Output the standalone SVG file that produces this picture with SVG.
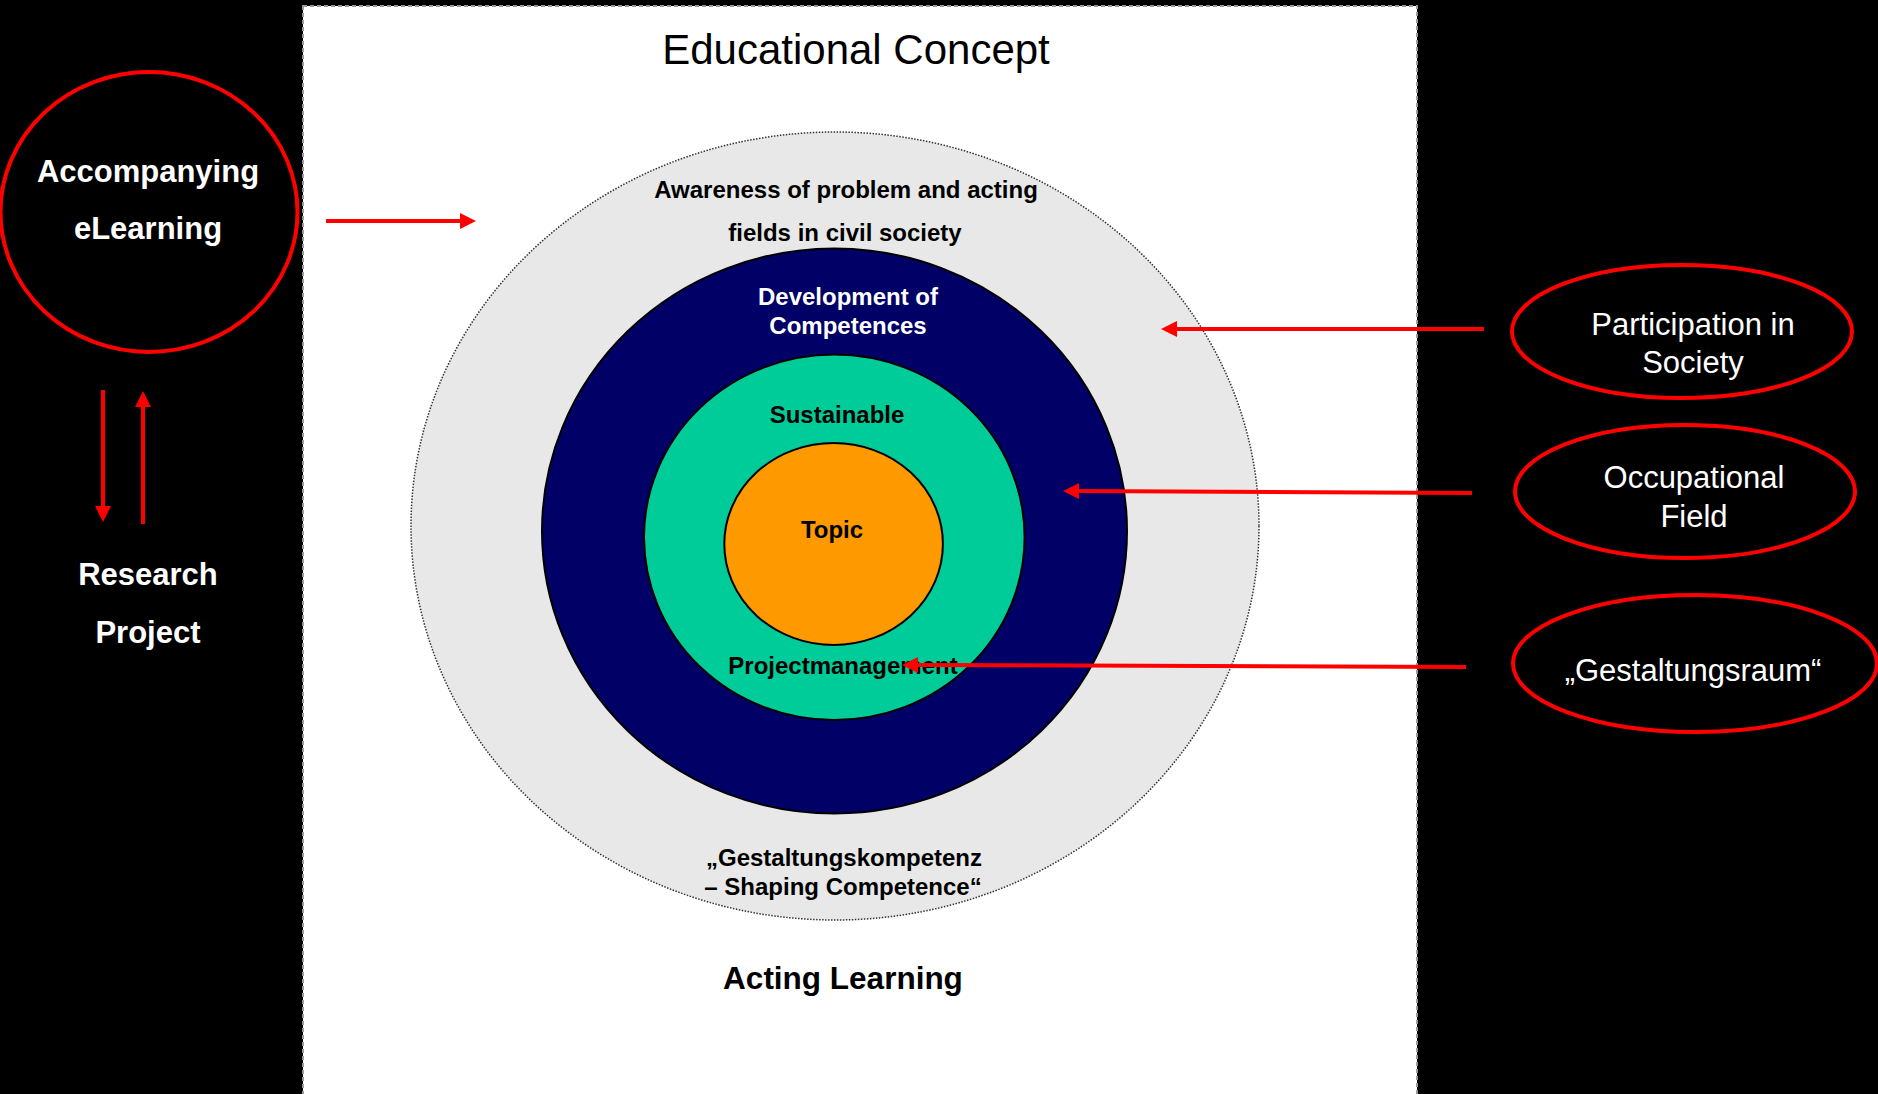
<svg xmlns="http://www.w3.org/2000/svg" width="1878" height="1094" viewBox="0 0 1878 1094">
<defs>
<style>
text{font-family:"Liberation Sans",Arial,sans-serif;text-anchor:middle}
.wb{fill:#fff;font-weight:bold;font-size:31px}
.wr{fill:#fff;font-size:31px}
.bb{fill:#000;font-weight:bold;font-size:24px}
.ring{fill:none;stroke:#ff0000;stroke-width:4}
.con{stroke:#ff0000;stroke-width:4;fill:none;marker-end:url(#ah)}
</style>
<marker id="ah" markerUnits="userSpaceOnUse" markerWidth="16" markerHeight="16" refX="2" refY="8" orient="auto">
<path d="M0,0 L16,8 L0,16 Z" fill="#ff0000"/>
</marker>
</defs>
<rect x="0" y="0" width="1878" height="1094" fill="#000"/>
<g id="panel">
<rect x="303" y="6" width="1114" height="1100" fill="#fff" stroke="#999" stroke-width="2" stroke-dasharray="4 3"/>
<text x="856" y="64" style="font-size:42px;fill:#000">Educational Concept</text>
</g>
<g id="ring-awareness">
<ellipse cx="835" cy="526" rx="424" ry="394" fill="#e8e8e8" stroke="#333" stroke-width="1.5" stroke-dasharray="1.5 1.5"/>
<text class="bb" x="846" y="198">Awareness of problem and acting</text>
<text class="bb" x="845" y="241">fields in civil society</text>
<text class="bb" x="844" y="866">„Gestaltungskompetenz</text>
<text class="bb" x="843" y="895">– Shaping Competence“</text>
</g>
<g id="ring-competences">
<ellipse cx="834.5" cy="531" rx="292.5" ry="282.5" fill="#000066" stroke="#000" stroke-width="2"/>
<text class="bb" x="848" y="305" style="fill:#fff">Development of</text>
<text class="bb" x="848" y="334" style="fill:#fff">Competences</text>
</g>
<g id="ring-sustainable">
<ellipse cx="834.3" cy="537.3" rx="190.3" ry="182.7" fill="#00cc99" stroke="#000" stroke-width="2"/>
<text class="bb" x="837" y="423">Sustainable</text>
<text class="bb" x="843" y="674">Projectmanagement</text>
</g>
<g id="topic">
<ellipse cx="833.6" cy="544" rx="109.3" ry="101" fill="#ff9900" stroke="#000" stroke-width="2"/>
<text class="bb" x="832" y="538">Topic</text>
</g>
<g id="acting-learning">
<text x="843" y="989" style="font-size:31.5px;font-weight:bold;fill:#000">Acting Learning</text>
</g>
<g id="elearning">
<ellipse class="ring" cx="149" cy="212" rx="148.5" ry="140"/>
<text class="wb" x="148" y="182">Accompanying</text>
<text class="wb" x="148" y="239">eLearning</text>
</g>
<g id="research">
<text class="wb" x="148" y="585">Research</text>
<text class="wb" x="148" y="643">Project</text>
</g>
<g id="participation">
<ellipse class="ring" cx="1682" cy="331.5" rx="170" ry="66.5"/>
<text class="wr" x="1693" y="335">Participation in</text>
<text class="wr" x="1693" y="373">Society</text>
</g>
<g id="occupational">
<ellipse class="ring" cx="1685" cy="491.5" rx="170" ry="66.5"/>
<text class="wr" x="1694" y="488">Occupational</text>
<text class="wr" x="1694" y="527">Field</text>
</g>
<g id="gestaltungsraum">
<ellipse class="ring" cx="1695" cy="663.5" rx="182" ry="68.5"/>
<text class="wr" x="1693" y="681">„Gestaltungsraum“</text>
</g>
<g id="connectors">
<path class="con" d="M326,221 L462,221"/>
<path class="con" d="M103,390 L103,508"/>
<path class="con" d="M143,524 L143,405"/>
<path class="con" d="M1484,329 L1175,329"/>
<path class="con" d="M1472,493 L1077,491"/>
<path class="con" d="M1466,667 L916,665"/>
</g>
</svg>
